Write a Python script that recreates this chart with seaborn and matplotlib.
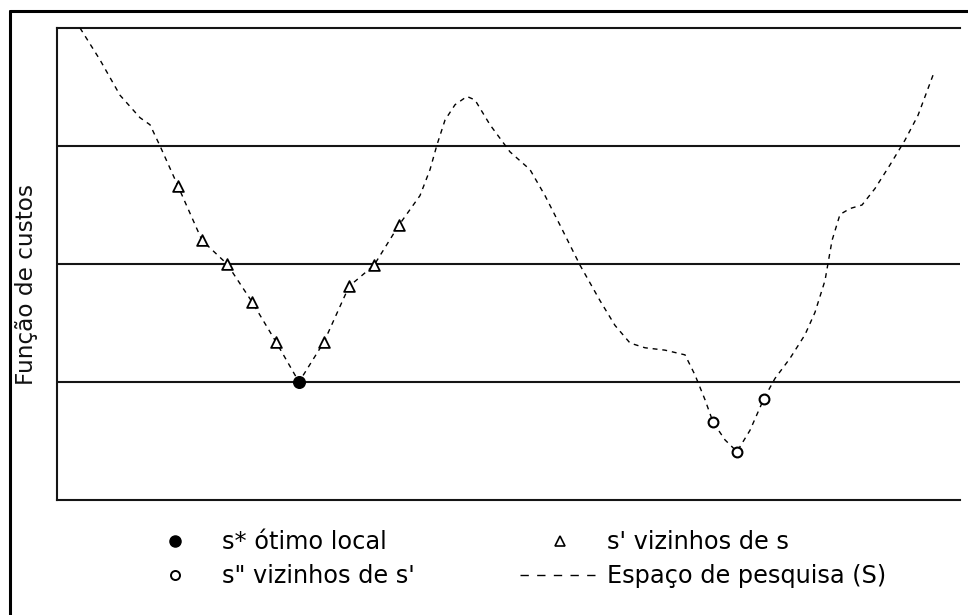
import matplotlib
matplotlib.use("Agg")
import matplotlib.pyplot as plt
from matplotlib.lines import Line2D
import seaborn as sns

# ---- data (x: 0..100, y: cost 0..4) ----
curve_x = [2.55, 4.76, 6.98, 9.19, 10.30, 11.41, 13.40, 16.06, 18.83, 21.59, 24.25,
           26.80, 29.57, 32.34, 35.11, 37.87, 40.20, 41.31, 42.08, 42.97, 44.08,
           45.40, 46.29, 47.95, 50.17, 52.38, 54.04, 55.70, 57.92, 60.13, 61.79,
           63.46, 65.12, 67.33, 69.55, 70.65, 71.76, 72.65, 73.97, 75.30, 76.74,
           78.29, 79.51, 81.17, 82.83, 83.94, 85.05, 85.83, 86.71, 87.82, 89.15,
           90.59, 92.25, 93.91, 95.35, 97.01]
curve_y = [4.00, 3.73, 3.43, 3.24, 3.18, 3.00, 2.66, 2.20, 2.00, 1.68, 1.34,
           1.00, 1.34, 1.81, 1.99, 2.33, 2.58, 2.80, 3.01, 3.22, 3.35,
           3.42, 3.39, 3.18, 2.95, 2.80, 2.58, 2.33, 1.99, 1.69, 1.48,
           1.33, 1.29, 1.27, 1.23, 1.06, 0.85, 0.66, 0.51, 0.41, 0.59,
           0.86, 1.03, 1.20, 1.40, 1.59, 1.86, 2.20, 2.42, 2.47, 2.50,
           2.64, 2.84, 3.05, 3.26, 3.60]

optimum_x = [26.80]
optimum_y = [1.00]
neigh_s_x = [13.40, 16.06, 18.83, 21.59, 24.25, 29.57, 32.34, 35.11, 37.87]
neigh_s_y = [2.66, 2.20, 2.00, 1.68, 1.34, 1.34, 1.81, 1.99, 2.33]
neigh_s2_x = [72.65, 75.30, 78.29]
neigh_s2_y = [0.66, 0.41, 0.86]

grid_levels = [1, 2, 3]
y_label = "Função de custos"
legend_labels = ["s* ótimo local", "s\" vizinhos de s'", "s' vizinhos de s",
                 "Espaço de pesquisa (S)"]

# ---- figure ----
sns.set_style("white")
plt.rcParams['font.family'] = ['DejaVu Sans']
plt.rcParams['text.color'] = 'black'
W, H = 968, 615
fig = plt.figure(figsize=(W / 100, H / 100), dpi=100)
ax = fig.add_axes([57 / W, 115 / H, 903 / W, 472 / H])

line_col = "#151515"
sns.lineplot(x=curve_x, y=curve_y, ax=ax, sort=False, color="black",
             linewidth=1.0, linestyle=(0, (3.5, 3.5)), zorder=3)
sns.scatterplot(x=neigh_s_x, y=neigh_s_y, ax=ax, marker="^", s=60,
                color="white", edgecolor="black", linewidth=1.3, zorder=4)
sns.scatterplot(x=neigh_s2_x, y=neigh_s2_y, ax=ax, marker="o", s=50,
                color="white", edgecolor="black", linewidth=1.5, zorder=4)
sns.scatterplot(x=optimum_x, y=optimum_y, ax=ax, marker="o", s=70,
                color="black", edgecolor="black", linewidth=1, zorder=5)

ax.set_xlim(0, 100)
ax.set_ylim(0, 4)
ax.set_xticks([])
ax.set_yticks(grid_levels)
ax.tick_params(axis="y", length=0, labelleft=False)
ax.yaxis.grid(True, color=line_col, linewidth=1.5)
ax.set_axisbelow(True)
for side in ["left", "top", "bottom"]:
    ax.spines[side].set_visible(True)
    ax.spines[side].set_color(line_col)
    ax.spines[side].set_linewidth(1.5)
ax.spines["right"].set_visible(False)

ax.set_ylabel(y_label, fontsize=16.7, color="#111111")
ax.yaxis.label.set_ha("left")
ax.yaxis.set_label_coords((38.5 - 57) / 903, (500 - 385) / 472)

# ---- legends ----
fs = 17.3
h_opt = Line2D([], [], linestyle="none", marker="o", markersize=8,
               markerfacecolor="black", markeredgecolor="black")
h_s2 = Line2D([], [], linestyle="none", marker="o", markersize=6.5,
              markerfacecolor="white", markeredgecolor="black", markeredgewidth=1.4)
h_s = Line2D([], [], linestyle="none", marker="^", markersize=7,
             markerfacecolor="white", markeredgecolor="black", markeredgewidth=1.2)
h_sp = Line2D([], [], color="black", linewidth=1.0, linestyle=(0, (6, 6)))

common = dict(loc="upper left", frameon=False, borderpad=0, borderaxespad=0,
              fontsize=fs, handlelength=3.33, handletextpad=0.29,
              labelspacing=0.42, labelcolor="black", bbox_transform=fig.transFigure)
leg1 = fig.legend([h_opt, h_s2], legend_labels[:2],
                  bbox_to_anchor=(135 / W, 1 - 530 / H), **common)
leg2 = fig.legend([h_s, h_sp], legend_labels[2:],
                  bbox_to_anchor=(520 / W, 1 - 530 / H), **common)

# ---- outer frame ----
fig.add_artist(Line2D([9.5 / W, 9.5 / W], [-0.05, 1 - 10.5 / H],
                      transform=fig.transFigure, color="black", linewidth=2.2))
fig.add_artist(Line2D([9.5 / W, 1.05], [1 - 10.5 / H, 1 - 10.5 / H],
                      transform=fig.transFigure, color="black", linewidth=2.2))

fig.savefig("out.png", dpi=100, facecolor="white")
